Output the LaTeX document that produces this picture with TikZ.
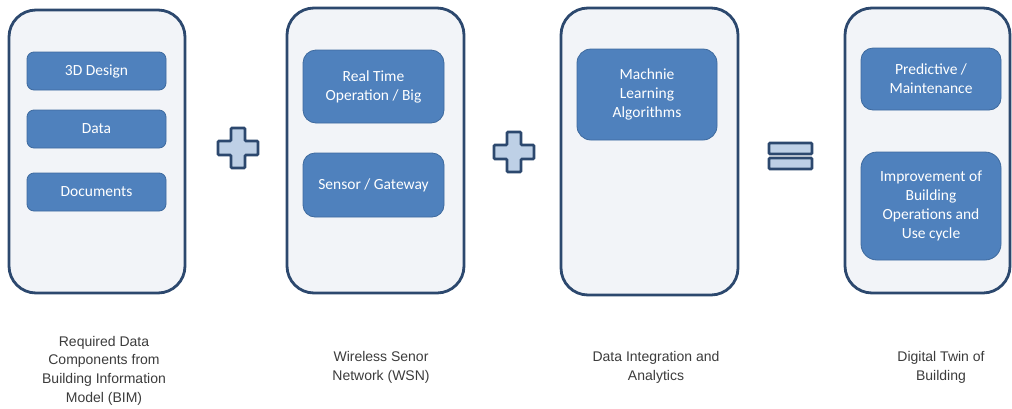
\documentclass[tikz,border=0pt]{standalone}
\usepackage{fontspec}
\setmainfont{Liberation Sans}
\newfontfamily\boxfont{Carlito}
\definecolor{navy}{RGB}{44,72,110}
\definecolor{panelfill}{RGB}{242,244,248}
\definecolor{boxblue}{RGB}{79,129,189}
\definecolor{boxedge}{RGB}{62,106,158}
\definecolor{symfill}{RGB}{190,208,230}
\definecolor{labelgray}{RGB}{60,60,60}
\begin{document}
\begin{tikzpicture}[x=1pt,y=-1pt,
  panel/.style={draw=navy, line width=2.8pt, fill=panelfill, rounded corners=27pt, inner sep=0pt},
  bluebox/.style={draw=boxedge, line width=0.8pt, fill=boxblue, rounded corners=9pt, inner sep=2pt,
     text=white, font=\boxfont\fontsize{15.5}{19}\selectfont, align=center},
  label/.style={text=labelgray, font=\fontsize{14}{18.7}\selectfont, align=center, inner sep=0pt},
  sym/.style={draw=navy, line width=2.6pt, fill=symfill, rounded corners=1pt}]
\useasboundingbox (0,0) rectangle (1012,408);
\fill[white] (0,0) rectangle (1012,408);

% panels
\node[panel, minimum width=176pt, minimum height=283pt] (p1) at (97,151.5) {};
\node[panel, minimum width=177pt, minimum height=285pt] (p2) at (375.5,150.5) {};
\node[panel, minimum width=177pt, minimum height=287pt] (p3) at (649.5,151.5) {};
\node[panel, minimum width=165pt, minimum height=285pt] (p4) at (927.5,150.5) {};

% panel 1 boxes
\node[bluebox, rounded corners=7pt, minimum width=139pt, minimum height=38pt] (b11) at (96.5,71) {3D Design};
\node[bluebox, rounded corners=7pt, minimum width=139pt, minimum height=38pt] (b12) at (96.5,129) {Data};
\node[bluebox, rounded corners=7pt, minimum width=139pt, minimum height=38pt] (b13) at (96.5,192) {Documents};

% panel 2 boxes
\node[bluebox, rounded corners=13pt, minimum width=141pt, minimum height=73pt] (b21) at (373.5,86.5) {Real Time\\Operation / Big};
\node[bluebox, rounded corners=12pt, minimum width=141pt, minimum height=64pt] (b22) at (373.5,185) {Sensor / Gateway};

% panel 3 box
\node[bluebox, rounded corners=14pt, minimum width=140pt, minimum height=91pt] (b31) at (647,94.5) {Machnie\\Learning\\Algorithms};

% panel 4 boxes
\node[bluebox, rounded corners=12pt, minimum width=140pt, minimum height=62pt] (b41) at (931,79) {Predictive /\\Maintenance};
\node[bluebox, rounded corners=16pt, minimum width=140pt, minimum height=108pt] (b42) at (931,206) {Improvement of\\Building\\Operations and\\Use cycle};

% plus signs
\draw[sym, shift={(238,148)}] (-7,-20) -- (7,-20) -- (7,-7) -- (20,-7) -- (20,7) -- (7,7) -- (7,20) -- (-7,20) -- (-7,7) -- (-20,7) -- (-20,-7) -- (-7,-7) -- cycle;
\draw[sym, shift={(514,152)}] (-7,-20) -- (7,-20) -- (7,-7) -- (20,-7) -- (20,7) -- (7,7) -- (7,20) -- (-7,20) -- (-7,7) -- (-20,7) -- (-20,-7) -- (-7,-7) -- cycle;

% equals sign
\draw[sym] (769,143) rectangle (812,154);
\draw[sym] (769,158) rectangle (812,169);

% labels
\node[label] (l1) at (104,370.5) {Required Data\\Components from\\Building Information\\Model (BIM)};
\node[label] (l2) at (381,367.5) {Wireless Senor\\Network (WSN)};
\node[label] (l3) at (656,367.5) {Data Integration and\\Analytics};
\node[label] (l4) at (941,367.5) {Digital Twin of\\Building};
\end{tikzpicture}
\end{document}
